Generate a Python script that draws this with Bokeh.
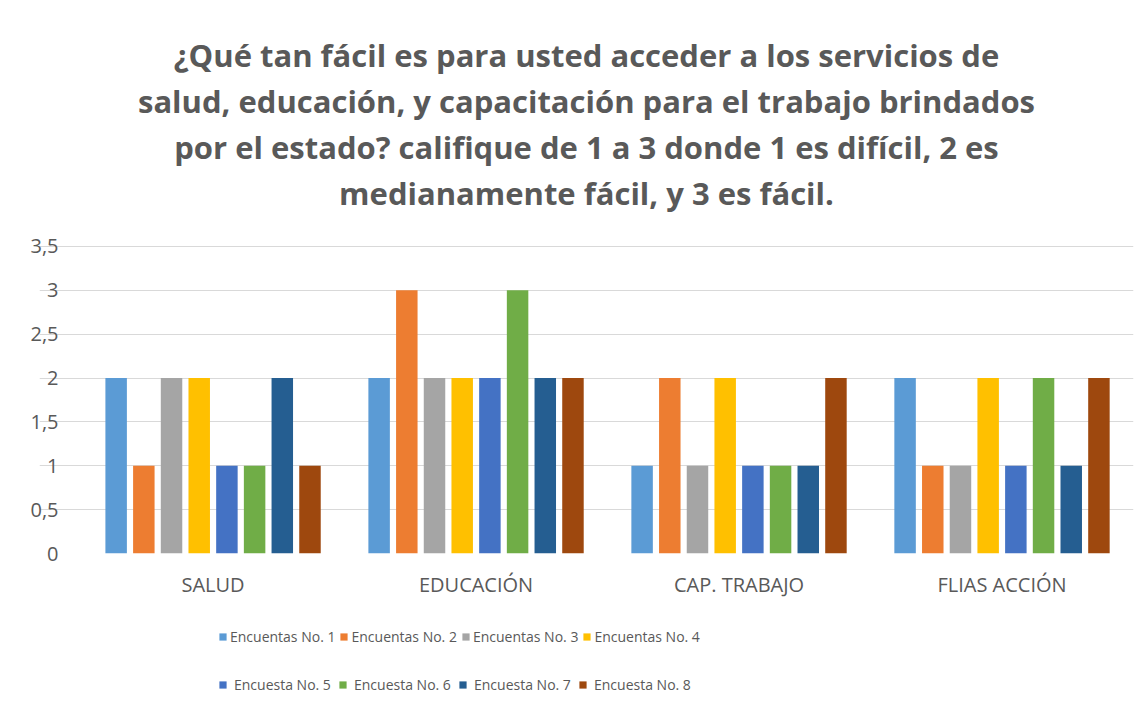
from bokeh.plotting import figure
from bokeh.models import (ColumnDataSource, Range1d, FixedTicker, Title, Legend, LegendItem,
                          LinearAxis)
from bokeh.layouts import column
from bokeh.transform import dodge
from bokeh.embed import file_html
from bokeh.resources import INLINE

categories = ["SALUD", "EDUCACIÓN", "CAP. TRABAJO", "FLIAS ACCIÓN"]
series_names = ["Encuentas No. 1", "Encuentas No. 2", "Encuentas No. 3", "Encuentas No. 4",
                "Encuesta No. 5", "Encuesta No. 6", "Encuesta No. 7", "Encuesta No. 8"]
s1 = [2, 2, 1, 2]
s2 = [1, 3, 2, 1]
s3 = [2, 2, 1, 1]
s4 = [2, 2, 2, 2]
s5 = [1, 2, 1, 1]
s6 = [1, 3, 1, 2]
s7 = [2, 2, 1, 1]
s8 = [1, 2, 2, 2]
series_values = [s1, s2, s3, s4, s5, s6, s7, s8]
colors = ["#5B9BD5", "#ED7D31", "#A5A5A5", "#FFC000", "#4472C4", "#70AD47", "#255E91", "#9E480E"]
y_ticks = [0, 0.5, 1, 1.5, 2, 2.5, 3, 3.5]
y_tick_labels = ["0", "0,5", "1", "1,5", "2", "2,5", "3", "3,5"]
title_lines = ["¿Qué tan fácil es para usted acceder a los servicios de",
               "salud, educación, y capacitación para el trabajo brindados",
               "por el estado? califique de 1 a 3 donde 1 es difícil, 2 es",
               "medianamente fácil, y 3 es fácil."]

cat_pos = [i + 0.5 for i in range(len(categories))]
data = {"pos": cat_pos}
for i, vals in enumerate(series_values):
    data[f"s{i}"] = vals
source = ColumnDataSource(data)

TEXT = "#595959"
FONT = "Open Sans"

# ---------------- main chart ----------------
p = figure(width=1147, height=600, x_range=Range1d(-0.16, len(categories)),
           y_range=Range1d(0, 3.51), output_backend="svg", toolbar_location=None,
           min_border_left=39, min_border_right=14, min_border_top=245, min_border_bottom=46)
p.outline_line_color = None
p.background_fill_color = "white"
p.border_fill_color = "white"

step = 0.1053
bar_w = 0.0817
for i, name in enumerate(series_names):
    p.vbar(x=dodge("pos", (i - 3.5) * step), top=f"s{i}", width=bar_w,
           source=source, fill_color=colors[i], line_color=None)

p.xgrid.grid_line_color = None
p.ygrid.grid_line_color = "#D9D9D9"
p.ygrid.grid_line_width = 1
p.ygrid.bounds = (0, len(categories))
p.yaxis.ticker = FixedTicker(ticks=y_ticks)
p.yaxis.major_label_overrides = {t: l for t, l in zip(y_ticks, y_tick_labels)}
p.xaxis.ticker = FixedTicker(ticks=cat_pos)
p.xaxis.major_label_overrides = {t: c for t, c in zip(cat_pos, categories)}
for ax in (p.xaxis, p.yaxis):
    ax.axis_line_color = None
    ax.major_tick_line_color = None
    ax.minor_tick_line_color = None
    ax.major_tick_out = 0
    ax.major_tick_in = 0
    ax.major_label_text_color = TEXT
    ax.major_label_text_font = FONT
    ax.major_label_text_font_size = "20px"
p.xaxis.major_label_standoff = 17
p.yaxis.major_label_standoff = -19

# blank spacer between chart area and title
spacer = LinearAxis(ticker=FixedTicker(ticks=[cat_pos[0]]), axis_line_color=None,
                    major_tick_line_color=None, minor_tick_line_color=None,
                    major_tick_out=30, major_tick_in=0, major_label_standoff=0,
                    major_label_overrides={cat_pos[0]: ""})
p.add_layout(spacer, "above")

# title lines (centred over the chart area), added from bottom line upwards
for line in reversed(title_lines):
    p.add_layout(Title(text=line, align="center", vertical_align="middle", standoff=2,
                       text_color=TEXT, text_font=FONT, text_font_style="bold",
                       text_font_size="31px"), "above")

# ---------------- legend strip ----------------
lp = figure(width=1147, height=111, output_backend="svg", toolbar_location=None,
            x_axis_type=None, y_axis_type=None, x_range=Range1d(0, 1), y_range=Range1d(0, 1),
            min_border_left=0, min_border_right=0, min_border_top=0, min_border_bottom=0)
lp.outline_line_color = None
lp.xgrid.visible = False
lp.ygrid.visible = False
lp.background_fill_color = "white"
lp.border_fill_color = "white"

# swatch renderers kept outside the visible range; only their legend entries show
swatch = ColumnDataSource({"x": [-5], "top": [-5]})
leg_renderers = [lp.vbar(x="x", top="top", width=0.1, source=swatch,
                         fill_color=c, line_color=None) for c in colors]

for row in range(2):
    items = [LegendItem(label=series_names[i], renderers=[leg_renderers[i]])
             for i in range(row * 4, row * 4 + 4)]
    lg = Legend(items=items, orientation="horizontal",
                location=(179, 65 if row == 0 else 17), margin=0,
                glyph_width=9, glyph_height=9, label_standoff=3 if row == 0 else 7,
                label_width=104 if row == 0 else 100, spacing=4,
                padding=0, border_line_color=None, background_fill_alpha=0,
                label_text_font=FONT, label_text_font_size="14px", label_text_color=TEXT)
    lp.add_layout(lg, "center")

layout = column(p, lp, spacing=0)
open("out.html", "w").write(file_html(layout, INLINE))
